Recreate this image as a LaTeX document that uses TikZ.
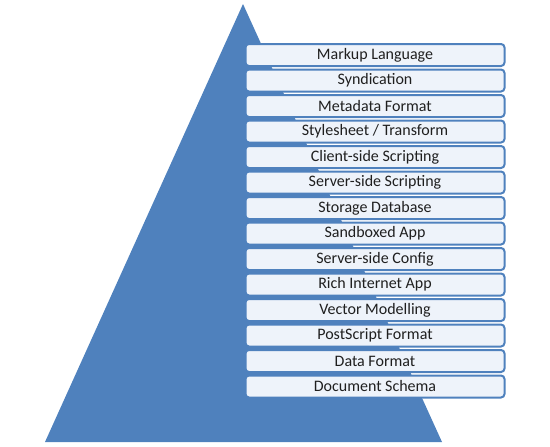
\documentclass[tikz,border=0pt]{standalone}
\usepackage{fontspec}
\setmainfont{Carlito}
\usepackage{tikz}

\definecolor{pyrblue}{HTML}{4F81BD}
\definecolor{boxfill}{HTML}{EEF3FA}

\begin{document}
\begin{tikzpicture}[x=1pt,y=-1pt,
    layerbox/.style={draw=pyrblue, line width=2pt, fill=boxfill, rounded corners=3.5pt,
        minimum width=259pt, minimum height=22pt, inner sep=0pt,
        font=\fontsize{16}{18}\selectfont, text=black!88}]

\useasboundingbox (0,0) rectangle (550,447);

\coordinate (apex) at (243,4);
\coordinate (bl) at (45,442);
\coordinate (br) at (442,442);

\fill[pyrblue] (apex) -- (br) -- (bl) -- cycle;

\foreach \i/\name in {0/Markup Language,1/Syndication,2/Metadata Format,
    3/{Stylesheet / Transform},4/Client-side Scripting,5/Server-side Scripting,
    6/Storage Database,7/Sandboxed App,8/Server-side Config,9/Rich Internet App,
    10/Vector Modelling,11/PostScript Format,12/Data Format,13/Document Schema}
    \node [layerbox] (layer\i) at (375,55+25.5*\i) {\name};

\end{tikzpicture}
\end{document}
